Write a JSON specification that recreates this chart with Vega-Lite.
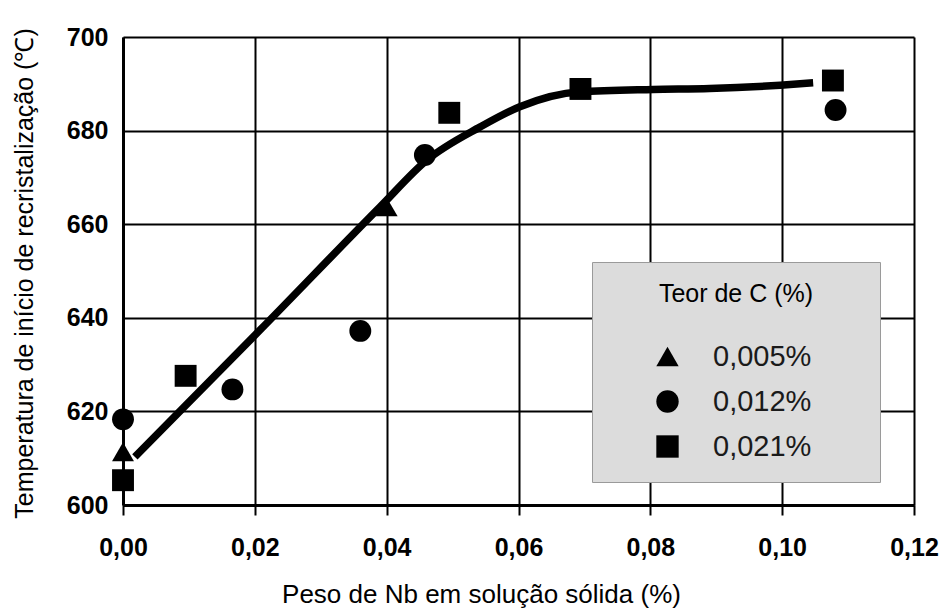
{
  "$schema": "https://vega.github.io/schema/vega-lite/v6.json",
  "width": 791,
  "height": 468,
  "autosize": {"type": "none"},
  "padding": {"left": 123, "top": 37, "right": 31, "bottom": 106},
  "background": "white",
  "config": {"view": {"stroke": null}, "font": "Liberation Sans"},
  "datasets": {
    "points": [
      {"nb": 0.0, "temp": 611.4, "carbono": "0,005%"},
      {"nb": 0.040, "temp": 663.7, "carbono": "0,005%"},
      {"nb": 0.0, "temp": 618.3, "carbono": "0,012%"},
      {"nb": 0.0166, "temp": 624.7, "carbono": "0,012%"},
      {"nb": 0.036, "temp": 637.2, "carbono": "0,012%"},
      {"nb": 0.0458, "temp": 674.8, "carbono": "0,012%"},
      {"nb": 0.1081, "temp": 684.4, "carbono": "0,012%"},
      {"nb": 0.0, "temp": 605.3, "carbono": "0,021%"},
      {"nb": 0.0095, "temp": 627.6, "carbono": "0,021%"},
      {"nb": 0.0495, "temp": 683.8, "carbono": "0,021%"},
      {"nb": 0.0694, "temp": 688.9, "carbono": "0,021%"},
      {"nb": 0.1077, "temp": 690.7, "carbono": "0,021%"}
    ],
    "curve": [
      {"nb": 0.0018, "temp": 610.3},
      {"nb": 0.0208, "temp": 637.4},
      {"nb": 0.039, "temp": 663.7},
      {"nb": 0.0461, "temp": 673.7},
      {"nb": 0.0542, "temp": 680.8},
      {"nb": 0.0602, "temp": 685.1},
      {"nb": 0.0693, "temp": 688.3},
      {"nb": 0.0804, "temp": 688.8},
      {"nb": 0.089, "temp": 689.0},
      {"nb": 0.0997, "temp": 689.7},
      {"nb": 0.1047, "temp": 690.2}
    ]
  },
  "layer": [
    {
      "data": {"name": "curve"},
      "mark": {"type": "line", "color": "black", "strokeWidth": 7.5, "interpolate": "monotone", "strokeCap": "butt"},
      "encoding": {
        "x": {
          "field": "nb", "type": "quantitative",
          "scale": {"domain": [0, 0.12], "nice": false, "zero": false},
          "axis": {
            "title": "Peso de Nb em solução sólida (%)",
            "values": [0, 0.02, 0.04, 0.06, 0.08, 0.1, 0.12],
            "labelExpr": "replace(format(datum.value, '.2f'), '.', ',')",
            "grid": true, "gridColor": "black", "gridWidth": 2, "gridOpacity": 1,
            "domainColor": "black", "domainWidth": 3,
            "ticks": true, "tickColor": "black", "tickWidth": 2, "tickSize": 10,
            "labelFont": "Liberation Sans", "labelFontWeight": "bold", "labelFontSize": 25,
            "labelColor": "black", "labelPadding": 20, "labelFlush": false, "labelOverlap": false,
            "titleFont": "Liberation Sans", "titleFontSize": 26, "titleFontWeight": "normal",
            "titleColor": "black", "titleX": 358, "titleY": 97, "titleAlign": "center",
            "titleBaseline": "alphabetic"
          }
        },
        "y": {
          "field": "temp", "type": "quantitative",
          "scale": {"domain": [600, 700], "nice": false, "zero": false},
          "axis": {
            "title": "Temperatura de início de recristalização (℃)",
            "values": [600, 620, 640, 660, 680, 700],
            "grid": true, "gridColor": "black", "gridWidth": 2, "gridOpacity": 1,
            "domainColor": "black", "domainWidth": 3,
            "ticks": false,
            "labelFont": "Liberation Sans", "labelFontWeight": "bold", "labelFontSize": 25,
            "labelColor": "black", "labelPadding": 15, "labelFlush": false, "labelOverlap": false,
            "titleFont": "Liberation Sans", "titleFontSize": 25, "titleFontWeight": "normal",
            "titleColor": "black", "titleX": -91, "titleY": 236, "titleAngle": -90,
            "titleAlign": "center", "titleBaseline": "alphabetic"
          }
        }
      }
    },
    {
      "data": {"name": "points"},
      "mark": {"type": "point", "filled": true, "size": 480, "color": "black", "opacity": 1},
      "encoding": {
        "x": {"field": "nb", "type": "quantitative"},
        "y": {"field": "temp", "type": "quantitative"},
        "shape": {
          "field": "carbono", "type": "nominal",
          "scale": {"domain": ["0,005%", "0,012%", "0,021%"], "range": ["triangle-up", "circle", "square"]},
          "legend": {
            "orient": "none", "legendX": 469, "legendY": 225,
            "title": "Teor de C (%)",
            "titleFont": "Liberation Sans", "titleFontSize": 25, "titleFontWeight": "normal",
            "titleColor": "black", "titleAnchor": "middle", "titlePadding": 35,
            "padding": 20, "fillColor": "#dcdcdc", "strokeColor": "#9a9a9a",
            "symbolSize": 500, "symbolFillColor": "black", "symbolStrokeColor": "black",
            "symbolStrokeWidth": 0, "symbolOffset": 41, "labelOffset": 31,
            "labelFont": "Liberation Sans", "labelFontSize": 29, "labelColor": "#1a1a1a",
            "rowPadding": 15, "labelLimit": 400,
            "labelExpr": "datum.label + '\u00a0\u00a0\u00a0\u00a0\u00a0\u00a0\u200b'"
          }
        }
      }
    }
  ]
}
